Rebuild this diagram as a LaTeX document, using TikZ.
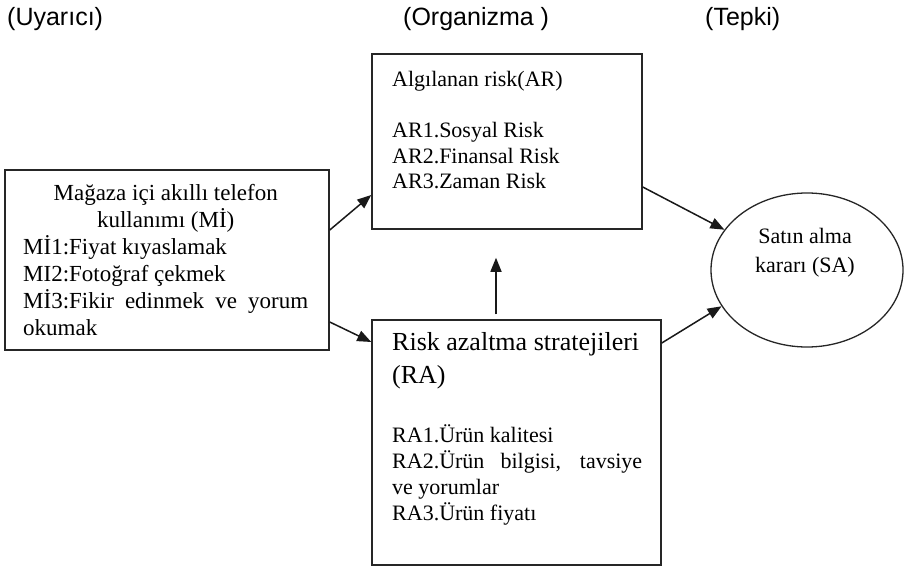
\documentclass[tikz,border=0pt]{standalone}
\usepackage{fontspec}
\setmainfont{Liberation Serif}
\newfontfamily\hdfont{Liberation Sans}
\usetikzlibrary{arrows.meta,shapes.geometric}

\tikzset{
  frame/.style={draw=black!85, line width=1.5pt, inner sep=0pt},
  oval/.style={draw=black!85, line width=1.3pt, ellipse, inner sep=0pt},
  txt/.style={inner sep=0pt, anchor=base west},
  head/.style={inner sep=0pt, anchor=base west, font=\hdfont\fontsize{25}{30}\selectfont},
  link/.style={draw=black!90, line width=1.5pt, -{Triangle[length=14pt,width=11pt]}},
  body/.style={font=\fontsize{22}{26}\selectfont}
}

\begin{document}
\begin{tikzpicture}[x=1pt,y=-1pt]
\useasboundingbox (0,0) rectangle (904,567);

% column headings
\node[head] (h1) at (7,26) {(Uyarıcı)};
\node[head] (h2) at (403,26) {(Organizma )};
\node[head] (h3) at (705,26) {(Tepki)};

% boxes
\node[frame, minimum width=324pt, minimum height=180pt] (mi) at (167,260) {};
\node[frame, minimum width=270pt, minimum height=175pt] (ar) at (507,141.5) {};
\node[frame, minimum width=289pt, minimum height=245pt] (ra) at (516.5,442.5) {};
\node[oval, minimum width=192pt, minimum height=154pt] (sa) at (807,270) {};

% box contents
\node[txt, font=\fontsize{23}{27}\selectfont] (mitext) at (23,200) {\parbox[t]{285pt}{%
  \centering Mağaza içi akıllı telefon\\ kullanımı (Mİ)\par
  \raggedright Mİ1:Fiyat kıyaslamak\\
  MI2:Fotoğraf çekmek\\
  \makebox[285pt][s]{Mİ3:Fikir edinmek ve yorum}\\
  okumak}};

\node[txt, font=\fontsize{22}{25.5}\selectfont] (artext) at (392,87) {\parbox[t]{240pt}{\raggedright
  Algılanan risk(AR)\\[25.5pt]
  AR1.Sosyal Risk\\
  AR2.Finansal Risk\\
  AR3.Zaman Risk}};

\node[txt, font=\fontsize{26}{33}\selectfont] (rahead) at (392,350) {\parbox[t]{252pt}{\raggedright
  Risk azaltma stratejileri\\ (RA)}};
\node[txt, font=\fontsize{22}{26}\selectfont] (rabody) at (392,442) {\parbox[t]{250pt}{\raggedright
  RA1.Ürün kalitesi\\
  \makebox[250pt][s]{RA2.Ürün bilgisi, tavsiye}\\
  ve yorumlar\\
  RA3.Ürün fiyatı}};

\node[inner sep=0pt, anchor=base, font=\fontsize{22}{29}\selectfont] (satext) at (805,243) {\parbox[t]{160pt}{\centering
  Satın alma\\ kararı (SA)}};

% connectors
\draw[link] ([yshift=30pt]mi.east) -- ([yshift=-53.5pt]ar.west);
\draw[link] ([yshift=-62pt]mi.east) -- ([yshift=100.5pt]ra.west);
\draw[link, shorten <=5pt, shorten >=28pt] ([xshift=-20.5pt]ra.north) -- ([xshift=-11pt]ar.south);
\draw[link] ([yshift=-45.5pt]ar.east) -- (sa.154);
\draw[link] ([yshift=99.5pt]ra.east) -- (sa.203);
\end{tikzpicture}
\end{document}
